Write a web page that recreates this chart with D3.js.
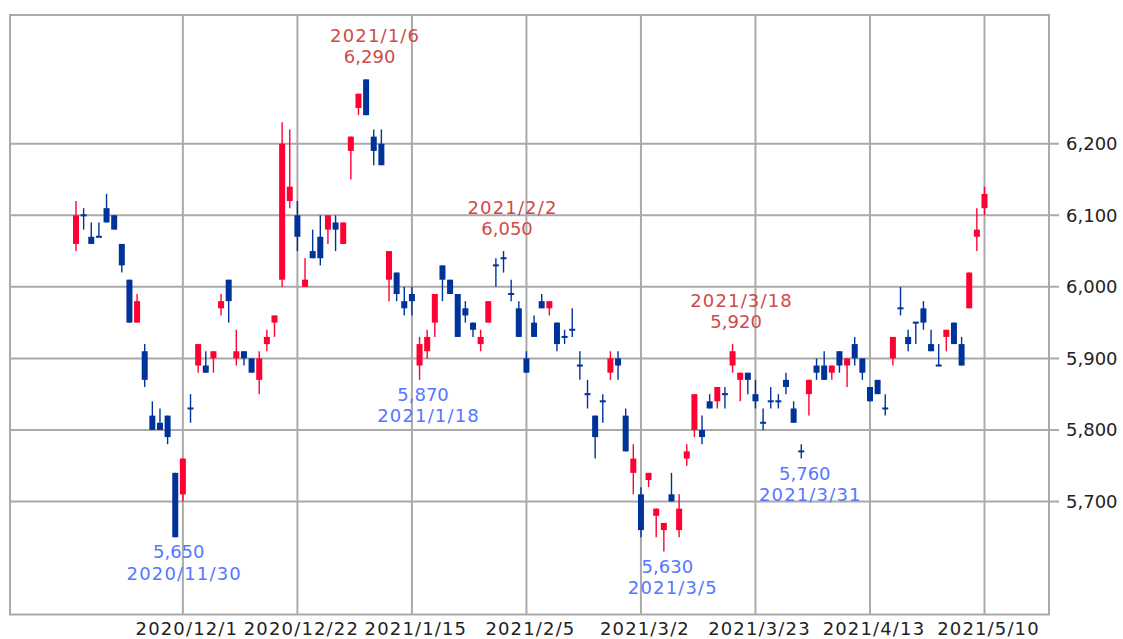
<!DOCTYPE html>
<html>
<head>
<meta charset="utf-8">
<script src="https://cdn.jsdelivr.net/npm/d3@7"></script>
<style>
  body { margin: 0; background: #fff; }
  svg { display: block; font-family: "DejaVu Sans", sans-serif; }
  .grid line { stroke: #aaa; stroke-width: 2; }
  .frame { fill: none; stroke: #aaa; stroke-width: 2; }
  .tick-label { font-size: 18px; fill: #222; }
  .date-text { letter-spacing: 1.15px; }
</style>
</head>
<body>
<svg id="chart" width="1123" height="639"></svg>
<script>
const svg = d3.select('svg#chart');

// trading days (TSE), 2020/11/10 .. 2021/5/10
const dates = [
  '2020/11/10','2020/11/11','2020/11/12','2020/11/13','2020/11/16','2020/11/17','2020/11/18','2020/11/19','2020/11/20',
  '2020/11/24','2020/11/25','2020/11/26','2020/11/27','2020/11/30',
  '2020/12/1','2020/12/2','2020/12/3','2020/12/4','2020/12/7','2020/12/8','2020/12/9','2020/12/10','2020/12/11',
  '2020/12/14','2020/12/15','2020/12/16','2020/12/17','2020/12/18','2020/12/21','2020/12/22','2020/12/23',
  '2020/12/24','2020/12/25','2020/12/28','2020/12/29','2020/12/30',
  '2021/1/4','2021/1/5','2021/1/6','2021/1/7','2021/1/8','2021/1/12','2021/1/13','2021/1/14','2021/1/15',
  '2021/1/18','2021/1/19','2021/1/20','2021/1/21','2021/1/22','2021/1/25','2021/1/26','2021/1/27','2021/1/28','2021/1/29',
  '2021/2/1','2021/2/2','2021/2/3','2021/2/4','2021/2/5','2021/2/8','2021/2/9','2021/2/10','2021/2/12',
  '2021/2/15','2021/2/16','2021/2/17','2021/2/18','2021/2/19','2021/2/22','2021/2/24','2021/2/25','2021/2/26',
  '2021/3/1','2021/3/2','2021/3/3','2021/3/4','2021/3/5','2021/3/8','2021/3/9','2021/3/10','2021/3/11','2021/3/12',
  '2021/3/15','2021/3/16','2021/3/17','2021/3/18','2021/3/19','2021/3/22','2021/3/23','2021/3/24','2021/3/25',
  '2021/3/26','2021/3/29','2021/3/30','2021/3/31',
  '2021/4/1','2021/4/2','2021/4/5','2021/4/6','2021/4/7','2021/4/8','2021/4/9','2021/4/12','2021/4/13',
  '2021/4/14','2021/4/15','2021/4/16','2021/4/19','2021/4/20','2021/4/21','2021/4/22','2021/4/23',
  '2021/4/26','2021/4/27','2021/4/28','2021/4/30','2021/5/6','2021/5/7','2021/5/10'
];

const opens = [
  6060,6100,6070,6070,6110,6100,6060,6010,5950,5910,5820,5810,5820,5740,
  5710,5830,5890,5890,5900,5970,6010,5900,5910,5900,5870,5920,5950,6010,6120,6100,6000,
  6050,6070,6080,6090,6060,
  6190,6250,6290,6210,6200,6010,6020,5980,5990,
  5890,5910,5950,6030,6010,5990,5970,5950,5920,5950,
  6030,6040,5990,5970,5900,5950,5980,5970,5950,5930,5940,5890,5850,5820,5840,5880,5900,5820,
  5740,5710,5730,5680,5660,5710,5660,5760,5800,5800,5840,5840,5850,5890,5870,5880,5850,5810,
  5840,5840,5870,5830,5770,
  5850,5890,5890,5880,5910,5890,5920,5900,5860,5870,5830,5900,5970,5930,5950,5970,5920,5890,
  5930,5950,5920,5970,6070,6110
];
const highs = [
  6120,6110,6090,6090,6130,6100,6060,6010,5990,5920,5840,5830,5820,5740,
  5760,5850,5920,5910,5910,5990,6010,5940,5910,5900,5910,5940,5960,6230,6220,6120,6040,
  6080,6100,6100,6100,6090,
  6210,6270,6290,6220,6220,6050,6020,6000,6000,
  5930,5940,5990,6030,6010,5990,5980,5950,5940,5980,
  6040,6050,6010,5980,5910,5960,5990,5980,5950,5940,5970,5910,5870,5820,5850,5910,5910,5830,
  5780,5720,5740,5690,5670,5740,5710,5780,5850,5820,5850,5860,5860,5920,5880,5880,5870,5830,
  5860,5850,5880,5840,5780,
  5870,5900,5910,5890,5910,5900,5930,5900,5860,5870,5850,5930,6000,5940,5950,5980,5940,5920,
  5940,5950,5930,6020,6110,6140
];
const lows = [
  6050,6080,6060,6070,6090,6080,6020,5950,5950,5860,5800,5800,5780,5650,
  5700,5810,5880,5880,5880,5960,5950,5890,5890,5880,5850,5910,5930,6000,6110,6050,6000,
  6040,6030,6060,6050,6060,
  6150,6240,6240,6170,6170,5980,5980,5960,5960,
  5870,5900,5930,5980,5990,5930,5950,5930,5910,5950,
  6000,6020,5980,5930,5880,5930,5970,5960,5910,5920,5930,5870,5830,5760,5810,5870,5870,5770,
  5710,5650,5720,5650,5630,5700,5650,5750,5790,5780,5830,5830,5830,5880,5840,5850,5830,5800,
  5830,5830,5850,5810,5760,
  5820,5870,5870,5870,5880,5860,5890,5870,5840,5850,5820,5890,5960,5910,5920,5940,5910,5890,
  5910,5920,5890,5970,6050,6100
];
const closes = [
  6100,6100,6060,6070,6090,6080,6030,5950,5980,5870,5800,5800,5790,5650,
  5760,5830,5920,5880,5910,5980,5980,5910,5900,5880,5900,5930,5960,6200,6140,6070,6010,
  6040,6040,6100,6080,6090,
  6210,6270,6240,6190,6170,6050,5990,5970,5980,
  5920,5930,5990,6010,5990,5930,5960,5940,5930,5980,
  6030,6040,5990,5930,5880,5930,5970,5980,5920,5930,5940,5890,5850,5790,5840,5900,5890,5770,
  5760,5660,5740,5690,5670,5700,5690,5770,5850,5790,5830,5860,5850,5910,5880,5870,5840,5810,
  5840,5840,5860,5810,5770,
  5870,5880,5870,5890,5890,5900,5900,5880,5840,5850,5830,5930,5970,5920,5950,5950,5910,5890,
  5940,5920,5890,6020,6080,6130
];

const xTickDates = ['2020/12/1','2020/12/22','2021/1/15','2021/2/5','2021/3/2','2021/3/23','2021/4/13','2021/5/10'];
const yTicks = [5700, 5800, 5900, 6000, 6100, 6200];

// peak / trough notes
const highNotes = ['2021/1/6', '2021/2/2', '2021/3/18'];
const lowNotes = ['2020/11/30', '2021/1/18', '2021/3/5', '2021/3/31'];

const upColor = '#ff0033';
const downColor = '#003399';
const highTextColor = '#cf4a4a';
const lowTextColor = '#5577ff';

const frame = { left: 10, top: 15, right: 1049, bottom: 614.5 };

const data = dates.map((d, i) => ({
  date: d, open: opens[i], high: highs[i], low: lows[i], close: closes[i]
}));

const xScale = d3.scalePoint()
  .domain(dates)
  .range([76, 984.5]);

const yScale = d3.scaleLinear()
  .domain([5542, 6380])
  .range([frame.bottom, frame.top]);

const fmt = d3.format(',');

/**
 * grid + frame
 */
const grid = svg.append('g').attr('class', 'grid');
grid.selectAll('.h').data(yTicks).enter().append('line')
  .attr('class', 'h')
  .attr('x1', frame.left).attr('x2', frame.right + 10)
  .attr('y1', d => yScale(d)).attr('y2', d => yScale(d));
grid.selectAll('.v').data(xTickDates).enter().append('line')
  .attr('class', 'v')
  .attr('x1', d => xScale(d)).attr('x2', d => xScale(d))
  .attr('y1', frame.top).attr('y2', frame.bottom);

svg.append('rect')
  .attr('class', 'frame')
  .attr('x', frame.left).attr('y', frame.top)
  .attr('width', frame.right - frame.left)
  .attr('height', frame.bottom - frame.top);

svg.append('g').selectAll('text').data(yTicks).enter().append('text')
  .attr('class', 'tick-label')
  .attr('x', frame.right + 17)
  .attr('y', d => yScale(d))
  .attr('dy', '0.36em')
  .text(d => fmt(d));

svg.append('g').selectAll('text').data(xTickDates).enter().append('text')
  .attr('class', 'tick-label date-text')
  .attr('x', d => xScale(d) + 4)
  .attr('y', 635)
  .attr('text-anchor', 'middle')
  .text(d => d);

/**
 * candles
 */
const bodyW = 6;
const candles = svg.append('g').selectAll('g').data(data).enter().append('g')
  .attr('fill', d => d.close > d.open ? upColor : downColor)
  .attr('stroke', d => d.close > d.open ? upColor : downColor);

candles.append('line')
  .attr('x1', d => xScale(d.date)).attr('x2', d => xScale(d.date))
  .attr('y1', d => yScale(d.high)).attr('y2', d => yScale(d.low))
  .attr('stroke-width', 1.4);

candles.append('rect')
  .attr('stroke', 'none')
  .attr('x', d => xScale(d.date) - bodyW / 2)
  .attr('width', bodyW)
  .attr('y', d => {
    const top = yScale(Math.max(d.open, d.close));
    const h = yScale(Math.min(d.open, d.close)) - top;
    return h < 2 ? top - 1 : top;
  })
  .attr('height', d => Math.max(2, yScale(Math.min(d.open, d.close)) - yScale(Math.max(d.open, d.close))));

/**
 * high / low notes
 */
const notes = svg.append('g').attr('font-size', '18px');
highNotes.forEach(dt => {
  const d = data.find(r => r.date === dt);
  const x = xScale(dt), y = yScale(d.high);
  notes.append('text').attr('class', 'date-text')
    .attr('x', x + 9).attr('y', y - 37)
    .attr('text-anchor', 'middle').attr('fill', highTextColor)
    .text(dt);
  notes.append('text')
    .attr('x', x + 3.5).attr('y', y - 16)
    .attr('text-anchor', 'middle').attr('fill', highTextColor)
    .text(fmt(d.high));
});
lowNotes.forEach(dt => {
  const d = data.find(r => r.date === dt);
  const x = xScale(dt), y = yScale(d.low);
  notes.append('text')
    .attr('x', x + 3.5).attr('y', y + 21)
    .attr('text-anchor', 'middle').attr('fill', lowTextColor)
    .text(fmt(d.low));
  notes.append('text').attr('class', 'date-text')
    .attr('x', x + 9).attr('y', y + 42.5)
    .attr('text-anchor', 'middle').attr('fill', lowTextColor)
    .text(dt);
});
</script>
</body>
</html>
